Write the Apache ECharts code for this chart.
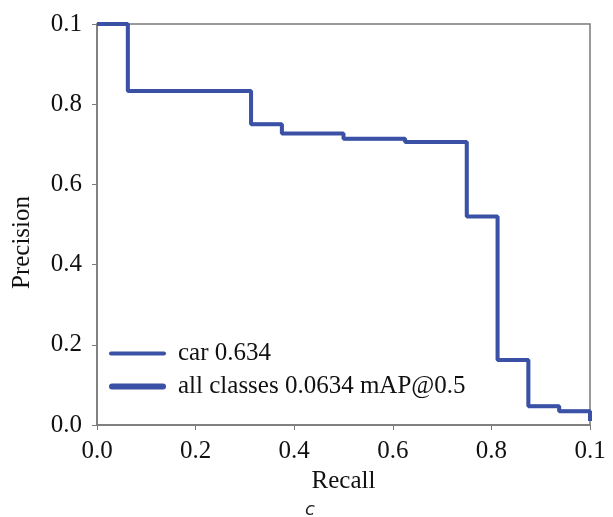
<!DOCTYPE html>
<html>
<head>
<meta charset="utf-8">
<script src="https://cdn.jsdelivr.net/npm/echarts@6/dist/echarts.min.js"></script>
<style>
  html, body { margin: 0; padding: 0; background: #fff; }
  #main { width: 613px; height: 517px; }
</style>
</head>
<body>
<div id="main"></div>
<script>
// recall / precision steps
const recall = [0, 0.0625, 0.3125, 0.375, 0.5, 0.625, 0.75, 0.8125, 0.875, 0.9375, 1.0];
const precision = [1.0, 0.833, 0.75, 0.727, 0.714, 0.706, 0.52, 0.162, 0.047, 0.034, 0.01];
// tick labels as printed (top/right one reads 0.1)
const xTickLabels = ['0.0', '0.2', '0.4', '0.6', '0.8', '0.1'];
const yTickLabels = ['0.0', '0.2', '0.4', '0.6', '0.8', '0.1'];
const seriesNames = ['car 0.634', 'all classes 0.0634 mAP@0.5'];

const blue = '#3a51a5';
const font = 'Liberation Serif';
const points = recall.map((r, i) => [r, precision[i]]);

const chart = echarts.init(document.getElementById('main'));

const axisCommon = {
    type: 'value',
    min: 0,
    max: 1,
    interval: 0.2,
    splitLine: { show: false },
    axisLine: { show: true, lineStyle: { color: '#7a7a7a', width: 1.5 } },
    axisTick: { show: true, length: 5, lineStyle: { color: '#7a7a7a' } }
};

chart.setOption({
    animation: false,
    grid: {
        left: 97, right: 23, top: 24, bottom: 92,
        show: true, borderColor: '#7a7a7a', borderWidth: 1.5
    },
    xAxis: Object.assign({}, axisCommon, {
        name: 'Recall',
        nameLocation: 'middle',
        nameGap: 44,
        nameTextStyle: { fontFamily: font, fontSize: 25, color: '#111' },
        axisLabel: {
            fontFamily: font, fontSize: 25, color: '#111', margin: 14,
            formatter: v => xTickLabels[Math.round(v / 0.2)]
        }
    }),
    yAxis: Object.assign({}, axisCommon, {
        name: 'Precision',
        nameLocation: 'middle',
        nameGap: 62,
        nameTextStyle: { fontFamily: font, fontSize: 25, color: '#111', padding: [0, 36, 0, 0] },
        axisLabel: {
            fontFamily: font, fontSize: 25, color: '#111', margin: 15,
            formatter: v => yTickLabels[Math.round(v / 0.2)]
        }
    }),
    legend: {
        orient: 'vertical',
        left: 104,
        top: 336,
        itemWidth: 57,
        itemHeight: 14,
        itemGap: 8,
        textStyle: { fontFamily: font, fontSize: 25, lineHeight: 25, color: '#111', padding: [0, 0, 0, 7] },
        data: [
            { name: seriesNames[0], icon: 'path://M2,0 L55,0 A2,2 0 0 1 55,4 L2,4 A2,2 0 0 1 2,0 Z' },
            { name: seriesNames[1], icon: 'path://M3,0 L54,0 A3,3 0 0 1 54,6 L3,6 A3,3 0 0 1 3,0 Z' }
        ]
    },
    graphic: [{
        type: 'text',
        x: 310,
        y: 510,
        style: {
            text: 'c', font: 'italic 18px "DejaVu Sans"', fill: '#222',
            align: 'center', verticalAlign: 'middle'
        }
    }],
    series: [
        {
            name: seriesNames[0],
            type: 'line',
            step: 'end',
            symbol: 'none',
            data: points,
            color: blue,
            lineStyle: { width: 3, color: blue }
        },
        {
            name: seriesNames[1],
            type: 'line',
            step: 'end',
            symbol: 'none',
            data: points,
            color: blue,
            lineStyle: { width: 4, color: blue }
        }
    ]
});
</script>
</body>
</html>
